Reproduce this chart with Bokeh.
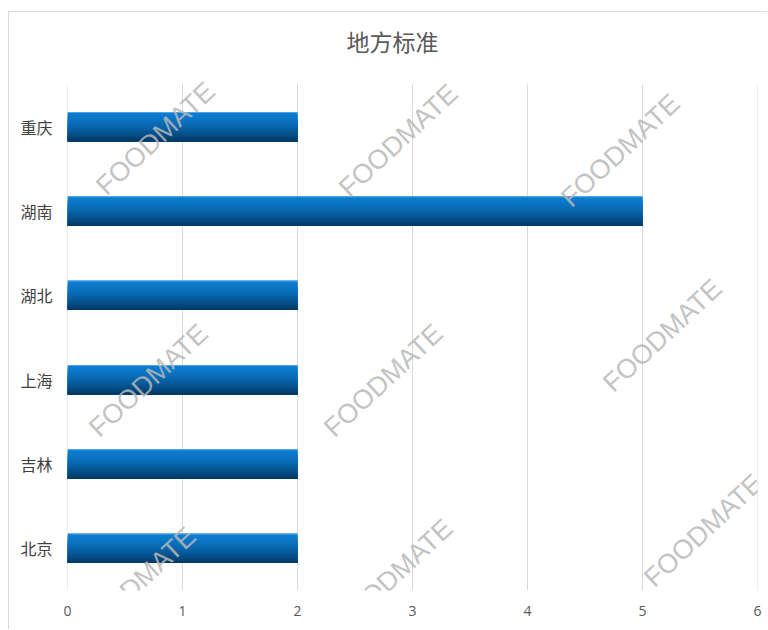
from bokeh.plotting import figure
from bokeh.models import Range1d, FixedTicker, Label, ColumnDataSource
from bokeh.embed import file_html
from bokeh.resources import INLINE

# ---- data ----
title_text = "地方标准"
regions = ["重庆", "湖南", "湖北", "上海", "吉林", "北京"]   # top to bottom
counts = [2, 5, 2, 2, 2, 2]
x_ticks = [0, 1, 2, 3, 4, 5, 6]
watermark_text = "FOODMATE"
# decorative watermark centres in page pixels
wm_px = [(155, 138), (398, 140), (620, 150), (148, 380), (383, 380),
         (662, 335), (136, 583), (393, 575), (703, 530)]

# ---- geometry ----
W, H = 759, 618
FL, FR, FB = 58, 11, 40              # frame borders inside canvas
PLOT_TOP = 72                        # px from canvas top where bar area starts
ORIGIN_X, ORIGIN_Y = 9, 12           # canvas origin on page
n = len(regions)
x_max = 6
fw = W - FL - FR
fh_total = H - FB
fh = fh_total - PLOT_TOP
y_max = n * fh_total / fh

p = figure(width=W, height=H, output_backend="svg", toolbar_location=None,
           x_range=Range1d(0, x_max), y_range=Range1d(0, y_max),
           min_border_left=FL, min_border_right=FR,
           min_border_top=0, min_border_bottom=FB)
p.styles = {"margin-top": "11px", "margin-left": "8px",
            "border-top": "1px solid #d9d9d9",
            "border-left": "1px solid #d9d9d9"}
p.outline_line_color = None
p.background_fill_color = "white"
p.border_fill_color = "white"

def to_dx(px):
    return (px - ORIGIN_X - FL) / fw * x_max
def to_dy(py):
    return (fh_total - (py - ORIGIN_Y)) / fh * n

# vertical grid lines over the bar area only
p.segment(x0=x_ticks, y0=[0] * len(x_ticks), x1=x_ticks, y1=[n] * len(x_ticks),
          line_color="#d9d9d9", line_width=1)

# y positions: first region at top
ypos = [n - 0.5 - i for i in range(n)]

# gradient bars: layered strips, each reaching the bar bottom
bar_h = 0.35
N = 14
top_c = (12, 124, 208)
bot_c = (2, 58, 104)
def mix(t):
    t2 = t ** 1.5
    return "#%02x%02x%02x" % tuple(int(round(a + (b - a) * t2)) for a, b in zip(top_c, bot_c))
sh = bar_h / N
for k in range(N):
    top_off = bar_h / 2 - sh * k
    bot_off = -bar_h / 2
    c_off = (top_off + bot_off) / 2
    hgt = top_off - bot_off
    src = ColumnDataSource(dict(y=[yy + c_off for yy in ypos], right=counts))
    p.hbar(y="y", left=0, right="right", height=hgt, source=src,
           fill_color=mix(k / (N - 1)), line_color=None)
# top highlight
src_hl = ColumnDataSource(dict(y=[yy + bar_h / 2 - 0.006 for yy in ypos], right=counts))
p.hbar(y="y", left=0, right="right", height=0.012, source=src_hl,
       fill_color="#4fa6e6", line_color=None)

# axes
p.xaxis.ticker = FixedTicker(ticks=x_ticks)
p.xaxis.axis_line_color = None
p.xaxis.major_tick_line_color = None
p.xaxis.minor_tick_line_color = None
p.xaxis.major_label_text_font = "Open Sans"
p.xaxis.major_label_text_font_size = "14px"
p.xaxis.major_label_text_color = "#595959"
p.xaxis.major_label_standoff = 9

p.yaxis.ticker = FixedTicker(ticks=ypos)
p.yaxis.major_label_overrides = {yy: r for yy, r in zip(ypos, regions)}
p.yaxis.axis_line_color = None
p.yaxis.major_tick_line_color = None
p.yaxis.minor_tick_line_color = None
p.yaxis.major_label_text_font = "Noto Sans CJK SC"
p.yaxis.major_label_text_font_size = "16px"
p.yaxis.major_label_text_color = "#404040"
p.yaxis.major_label_standoff = 9

p.xgrid.grid_line_color = None
p.ygrid.grid_line_color = None

# title
p.add_layout(Label(x=to_dx(392), y=to_dy(40), text=title_text,
                   text_font="Noto Sans CJK SC", text_font_size="23px",
                   text_color="#595959", text_align="center",
                   text_baseline="middle"))

# watermarks
for (wx, wy) in wm_px:
    p.add_layout(Label(x=to_dx(wx), y=to_dy(wy), text=watermark_text,
                       angle=43, angle_units="deg",
                       text_font="Liberation Sans", text_font_size="27px",
                       text_color="#b8b8b8", text_alpha=0.85,
                       text_align="center", text_baseline="middle"))

open("out.html", "w").write(file_html(p, INLINE))
